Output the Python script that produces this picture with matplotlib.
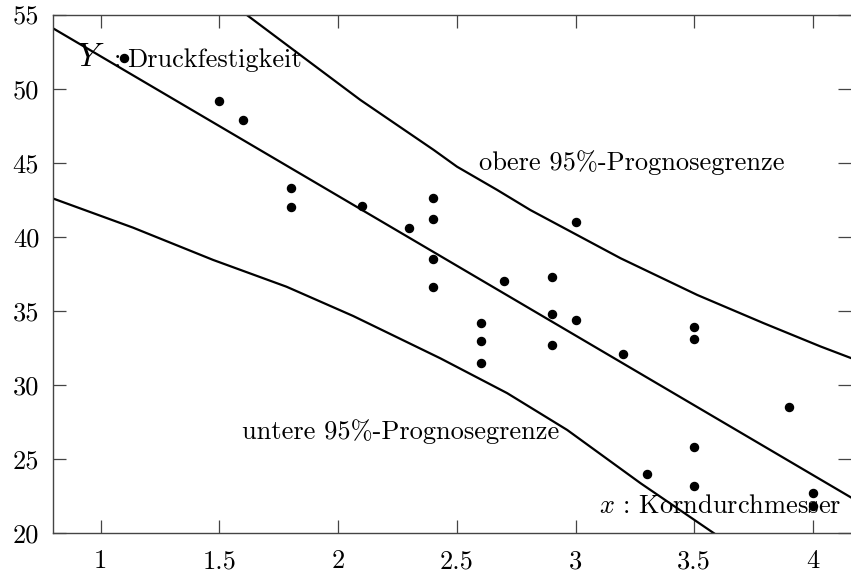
import matplotlib
matplotlib.use("Agg")
import matplotlib.pyplot as plt

plt.rcParams['font.family'] = 'cmr10'
plt.rcParams['mathtext.fontset'] = 'cm'
plt.rcParams['axes.formatter.use_mathtext'] = True

# Messwerte: Korndurchmesser x, Druckfestigkeit Y
korn = [1.1, 1.5, 1.6, 1.8, 1.8, 2.1, 2.3, 2.4, 2.4, 2.4, 2.4,
        2.6, 2.6, 2.6, 2.7, 2.9, 2.9, 2.9, 3.0, 3.0, 3.2, 3.3,
        3.5, 3.5, 3.5, 3.5, 3.9, 4.0, 4.0]
druck = [52.1, 49.2, 47.9, 43.3, 42.0, 42.1, 40.6, 42.6, 41.2, 38.5, 36.6,
         34.2, 33.0, 31.5, 37.0, 37.3, 34.8, 32.7, 41.0, 34.4, 32.1, 24.0,
         33.9, 33.1, 25.8, 23.2, 28.5, 22.7, 21.8]

# Regressionsgerade
reg_x = [0.8, 4.16]
reg_y = [54.1, 22.4]

# obere 95%-Prognosegrenze
ob_x = [1.616, 1.869, 2.094, 2.403, 2.501, 2.67, 2.81, 3.19, 3.513, 3.793, 4.032, 4.163]
ob_y = [55.0, 51.96, 49.26, 45.88, 44.75, 43.18, 41.82, 38.56, 36.08, 34.17, 32.6, 31.8]

# untere 95%-Prognosegrenze
un_x = [0.8, 1.137, 1.474, 1.783, 2.064, 2.431, 2.712, 2.965, 3.274, 3.583]
un_y = [42.6, 40.63, 38.45, 36.64, 34.66, 31.8, 29.45, 26.96, 23.36, 19.98]

xticks = [1, 1.5, 2, 2.5, 3, 3.5, 4]
yticks = [20, 25, 30, 35, 40, 45, 50, 55]

fig = plt.figure(figsize=(8.51, 5.76), dpi=100)
ax = fig.add_axes([0.0623, 0.0747, 0.9377, 0.8993])

ax.plot(reg_x, reg_y, color='black', lw=1.6)
ax.plot(ob_x, ob_y, color='black', lw=1.6)
ax.plot(un_x, un_y, color='black', lw=1.6)
ax.plot(korn, druck, 'o', color='black', ms=5.8, zorder=3)

ax.set_xlim(0.8, 4.16)
ax.set_ylim(20, 55)
ax.set_xticks(xticks)
ax.set_xticklabels(['1', '1.5', '2', '2.5', '3', '3.5', '4'])
ax.set_yticks(yticks)
ax.set_yticklabels([str(v) for v in yticks])
ax.tick_params(direction='in', length=9.5, width=0.9, color='#444444',
               labelsize=19, top=True, right=True)
ax.tick_params(axis='x', pad=12)
ax.tick_params(axis='y', pad=10)
for s in ['left', 'bottom', 'top']:
    ax.spines[s].set_color('#444444')
    ax.spines[s].set_linewidth(1.0)
ax.spines['right'].set_visible(False)


def fig_text(px, py, s, size, ha='left'):
    fig.text(px / 851, 1 - py / 576, s, fontsize=size, va='center', ha=ha)


fig_text(77, 57, r'$Y$', 24)
fig_text(115, 60, r'$:$', 19, ha='center')
fig_text(127, 60, 'Druckfestigkeit', 19)
fig_text(479, 163, 'obere 95%-Prognosegrenze', 19)
fig_text(242, 432, 'untere 95%-Prognosegrenze', 19)
fig_text(599, 506, r'$x$ : Korndurchmesser', 19)

fig.savefig('out.png', dpi=100)
